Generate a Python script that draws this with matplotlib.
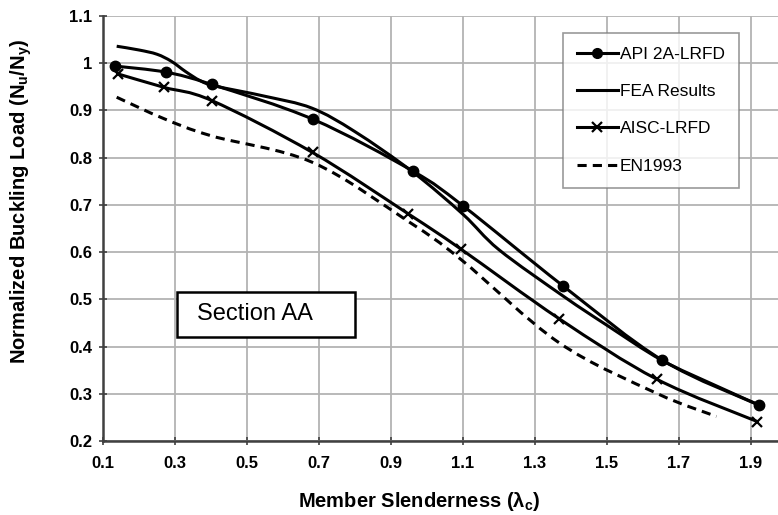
import numpy as np
import matplotlib
matplotlib.use("Agg")
import matplotlib.pyplot as plt
from matplotlib.path import Path
from matplotlib.patches import PathPatch, Rectangle
from matplotlib.lines import Line2D

plt.rcParams['font.family'] = ['Liberation Sans', 'DejaVu Sans']
plt.rcParams['mathtext.fontset'] = 'custom'
plt.rcParams['mathtext.rm'] = 'Liberation Sans:bold'
plt.rcParams['mathtext.it'] = 'Liberation Sans:bold'
plt.rcParams['mathtext.bf'] = 'Liberation Sans:bold'

# ---- data ----
x_api = [0.133, 0.275, 0.402, 0.684, 0.962, 1.100, 1.377, 1.654, 1.922]
y_api = [0.994, 0.981, 0.955, 0.881, 0.771, 0.698, 0.529, 0.371, 0.276]

x_fea = [0.138, 0.20, 0.25, 0.29, 0.33, 0.37, 0.41, 0.55, 0.68, 0.80, 0.96, 1.10, 1.20, 1.38, 1.50, 1.65, 1.80, 1.92]
y_fea = [1.036, 1.028, 1.019, 1.004, 0.982, 0.963, 0.952, 0.930, 0.905, 0.855, 0.770, 0.680, 0.605, 0.506, 0.445, 0.372, 0.318, 0.277]

x_aisc = [0.143, 0.269, 0.402, 0.682, 0.948, 1.095, 1.367, 1.638, 1.918]
y_aisc = [0.977, 0.949, 0.921, 0.811, 0.681, 0.606, 0.459, 0.331, 0.241]

x_en = [0.138, 0.268, 0.402, 0.682, 0.948, 1.095, 1.367, 1.638, 1.804]
y_en = [0.928, 0.883, 0.846, 0.790, 0.665, 0.584, 0.408, 0.301, 0.252]

series_labels = ['API 2A-LRFD', 'FEA Results', 'AISC-LRFD', 'EN1993']
x_ticks = [0.1, 0.3, 0.5, 0.7, 0.9, 1.1, 1.3, 1.5, 1.7, 1.9]
y_ticks = [0.2, 0.3, 0.4, 0.5, 0.6, 0.7, 0.8, 0.9, 1.0, 1.1]
y_ticklabels = ['0.2', '0.3', '0.4', '0.5', '0.6', '0.7', '0.8', '0.9', '1', '1.1']


def smooth_path(xs, ys):
    p = np.column_stack([xs, ys]).astype(float)
    n = len(p)
    verts = [p[0]]
    codes = [Path.MOVETO]
    for i in range(n - 1):
        p0 = p[i - 1] if i > 0 else p[i]
        p1 = p[i]
        p2 = p[i + 1]
        p3 = p[i + 2] if i + 2 < n else p[i + 1]
        c1 = p1 + (p2 - p0) / 6.0
        c2 = p2 - (p3 - p1) / 6.0
        verts += [c1, c2, p2]
        codes += [Path.CURVE4] * 3
    return Path(verts, codes)


fig = plt.figure(figsize=(7.78, 5.15), dpi=100)
ax = fig.add_axes([103 / 778, 74 / 515, 675 / 778, 425 / 515])
ax.set_xlim(0.1, 1.975)
ax.set_ylim(0.2, 1.1)

lw = 2.2
k = 'black'

def add_curve(xs, ys, ls='-'):
    patch = PathPatch(smooth_path(xs, ys), facecolor='none', edgecolor=k,
                      lw=lw, linestyle=ls, transform=ax.transData,
                      capstyle='butt', joinstyle='round', zorder=3)
    ax.add_patch(patch)

add_curve(x_api, y_api)
add_curve(x_fea, y_fea)
add_curve(x_aisc, y_aisc)
add_curve(x_en, y_en, ls=(0, (3, 2)))

ax.plot(x_api, y_api, linestyle='none', marker='o', ms=7.5, color=k, zorder=4)
ax.plot(x_aisc, y_aisc, linestyle='none', marker='x', ms=7, mew=1.6, color=k, zorder=4)

# grid & spines
ax.set_xticks(x_ticks)
ax.set_yticks(y_ticks)
ax.set_yticklabels(y_ticklabels)
ax.grid(True, color='#b3b3b3', lw=1.3, zorder=0)
ax.set_axisbelow(True)
for s in ['top', 'right']:
    ax.spines[s].set_visible(False)
for s in ['left', 'bottom']:
    ax.spines[s].set_color('#404040')
    ax.spines[s].set_linewidth(1.8)
ax.tick_params(axis='both', direction='inout', length=6, width=1.2, color='#404040',
               labelsize=12, pad=3)
for lab in ax.get_xticklabels() + ax.get_yticklabels():
    lab.set_fontweight('bold')
ax.tick_params(axis='x', pad=8)
ax.tick_params(axis='y', pad=5)

ax.set_xlabel('Member Slenderness (λ$_c$)', fontsize=14.5, fontweight='bold')
ax.xaxis.set_label_coords(0.468, -0.115)
ax.set_ylabel('Normalized Buckling Load (N$_u$/N$_y$)', fontsize=14.5, fontweight='bold')
ax.yaxis.set_label_coords(-0.102, 0.565)

# legend
handles = [
    Line2D([], [], color=k, lw=lw, marker='o', ms=7),
    Line2D([], [], color=k, lw=lw),
    Line2D([], [], color=k, lw=lw, marker='x', ms=7, mew=1.6),
    Line2D([], [], color=k, lw=lw, linestyle=(0, (3, 2))),
]
leg = ax.legend(handles, series_labels, loc='upper left', bbox_to_anchor=(0.681, 0.96),
                borderaxespad=0, fontsize=12.5, frameon=True, fancybox=False,
                handlelength=2.4, handletextpad=0.1, labelspacing=1.27,
                borderpad=0.8)
leg.get_frame().set_edgecolor('#808080')
leg.get_frame().set_linewidth(1.2)

# Section AA box
ax.add_patch(Rectangle((0.3056, 0.4206), 0.8 - 0.3056, 0.516 - 0.4206,
                       facecolor='white', edgecolor='black', lw=1.8, zorder=5))
ax.text(0.36, 0.468, 'Section AA', fontsize=17, va='center', ha='left', zorder=6)

fig.savefig('out.png', dpi=100)
